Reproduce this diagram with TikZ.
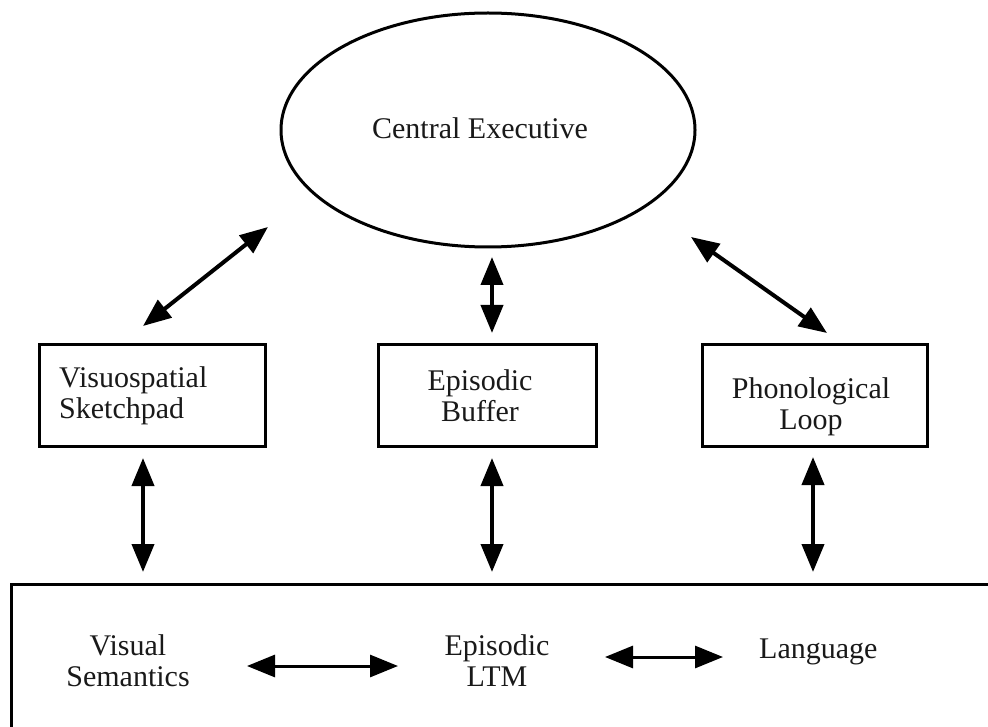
\documentclass[tikz,border=0pt]{standalone}
\usepackage{fontspec}
\setmainfont{Liberation Serif}
\usetikzlibrary{arrows.meta,shapes.geometric}
\begin{document}
\begin{tikzpicture}[x=1pt,y=-1pt,
  txt/.style={inner sep=0pt,font=\fontsize{30}{31}\selectfont,text=black!90},
  boxst/.style={draw,line width=3pt,inner sep=0pt},
  dbl/.style={line width=4pt,{Triangle[length=28pt,width=22pt]}-{Triangle[length=28pt,width=22pt]}},
  hdbl/.style={line width=3pt,{Triangle[length=28pt,width=22pt]}-{Triangle[length=28pt,width=22pt]}}]
\useasboundingbox (0,0) rectangle (988,727);
\begin{scope}
\clip (0,0) rectangle (988,727);
% central executive
\node[ellipse,draw,line width=3pt,minimum width=414pt,minimum height=234pt,inner sep=0pt] (ce) at (488,130) {};
\node[txt] (cet) at (480,128) {Central Executive};
% boxes
\node[boxst,minimum width=226pt,minimum height=102pt] (vs) at (152,395) {};
\node[boxst,minimum width=218pt,minimum height=102pt] (eb) at (487,395) {};
\node[boxst,minimum width=225pt,minimum height=102pt] (pl) at (814.5,395) {};
\node[txt,align=left,anchor=west] (vst) at (59,396) {Visuospatial\\Sketchpad};
\node[txt,align=center] (ebt) at (480,396) {Episodic\\Buffer};
\node[txt,align=center] (plt) at (811,407) {Phonological\\Loop};
% long term memory box
\node[boxst,anchor=north west,minimum width=1010pt,minimum height=180pt] (ltm) at (10,583) {};
\node[txt,align=center] (vis) at (128,661) {Visual\\Semantics};
\node[txt,align=center] (epl) at (497,661) {Episodic\\LTM};
\node[txt,anchor=west] (lang) at (759,652) {Language};
% arrow end points
\coordinate (a1) at (268,227); \coordinate (a2) at (143,326);
\coordinate (b1) at (492,257); \coordinate (b2) at (492,333);
\coordinate (c1) at (691,237); \coordinate (c2) at (827,333);
\coordinate (d1) at (143,458); \coordinate (d2) at (143,572);
\coordinate (e1) at (492,458); \coordinate (e2) at (492,572);
\coordinate (f1) at (813,457); \coordinate (f2) at (813,572);
\coordinate (g1) at (247,666); \coordinate (g2) at (398,666);
\coordinate (h1) at (605,657); \coordinate (h2) at (723,657);
\draw[dbl] (a1) -- (a2);
\draw[dbl] (b1) -- (b2);
\draw[dbl] (c1) -- (c2);
\draw[dbl] (d1) -- (d2);
\draw[dbl] (e1) -- (e2);
\draw[dbl] (f1) -- (f2);
\draw[hdbl] (g1) -- (g2);
\draw[hdbl] (h1) -- (h2);
\end{scope}
\end{tikzpicture}
\end{document}
